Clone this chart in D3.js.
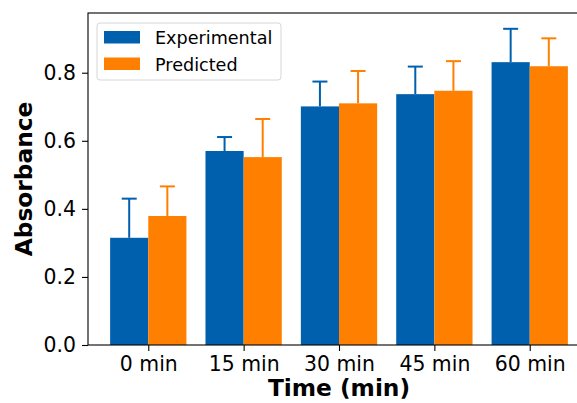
<!DOCTYPE html>
<html>
<head>
<meta charset="utf-8">
<script src="https://cdn.jsdelivr.net/npm/d3@7"></script>
<style>
  body { margin: 0; background: #fff; }
  text { font-family: "DejaVu Sans", sans-serif; }
</style>
</head>
<body>
<svg id="chart" width="577" height="403"></svg>
<script>
// data
const categories = ["0 min", "15 min", "30 min", "45 min", "60 min"];
const series = ["Experimental", "Predicted"];
const experimental = [0.315, 0.570, 0.701, 0.737, 0.831];
const experimentalErr = [0.115, 0.041, 0.073, 0.081, 0.098];
const predicted = [0.379, 0.552, 0.710, 0.747, 0.819];
const predictedErr = [0.087, 0.112, 0.095, 0.087, 0.082];
const yTicks = [0.0, 0.2, 0.4, 0.6, 0.8];

const colors = {"Experimental": "#0060ad", "Predicted": "#ff7f00"};

const margin = {top: 13, left: 88, bottom: 58, right: -13};
const W = 577, H = 403;
const x0 = margin.left, x1 = W - margin.right;
const yTop = margin.top, yBot = H - margin.bottom;

const svg = d3.select("#chart");

const x = d3.scalePoint().domain(categories).range([x0, x1]).padding(0.632);
const step = x.step();
const xs = d3.scaleBand().domain(series).range([-0.4 * step, 0.4 * step]).padding(0);
const yMax = d3.max([...experimental.map((v, i) => v + experimentalErr[i]), ...predicted.map((v, i) => v + predictedErr[i])]) * 1.05;
const y = d3.scaleLinear().domain([0, yMax]).range([yBot, yTop]);

const rows = [];
categories.forEach((c, i) => {
  rows.push({cat: c, s: "Experimental", v: experimental[i], e: experimentalErr[i]});
  rows.push({cat: c, s: "Predicted", v: predicted[i], e: predictedErr[i]});
});

// bars
svg.append("g").selectAll("rect").data(rows).join("rect")
  .attr("x", d => x(d.cat) + xs(d.s))
  .attr("y", d => y(d.v))
  .attr("width", xs.bandwidth())
  .attr("height", d => y(0) - y(d.v))
  .attr("fill", d => colors[d.s]);

// error bars
const eg = svg.append("g").selectAll("g").data(rows).join("g")
  .attr("stroke", d => colors[d.s]).attr("stroke-width", 2);
eg.append("line")
  .attr("x1", d => x(d.cat) + xs(d.s) + xs.bandwidth() / 2)
  .attr("x2", d => x(d.cat) + xs(d.s) + xs.bandwidth() / 2)
  .attr("y1", d => y(d.v))
  .attr("y2", d => y(d.v + d.e));
eg.append("line")
  .attr("x1", d => x(d.cat) + xs(d.s) + xs.bandwidth() / 2 - 7.5)
  .attr("x2", d => x(d.cat) + xs(d.s) + xs.bandwidth() / 2 + 7.5)
  .attr("y1", d => y(d.v + d.e))
  .attr("y2", d => y(d.v + d.e));

// axes
const xAxis = d3.axisBottom(x).tickSize(6).tickPadding(6);
const gx = svg.append("g").attr("transform", `translate(0,${yBot})`).call(xAxis);
gx.select(".domain").remove();
gx.selectAll("text").attr("font-size", 20.4).attr("fill", "#000").attr("font-family", "DejaVu Sans");
gx.selectAll("line").attr("stroke", "#000").attr("stroke-width", 1.1);

const yAxis = d3.axisLeft(y).tickValues(yTicks).tickFormat(d3.format(".1f")).tickSize(6).tickPadding(6);
const gy = svg.append("g").attr("transform", `translate(${x0},0)`).call(yAxis);
gy.select(".domain").remove();
gy.selectAll("text").attr("font-size", 20.4).attr("fill", "#000").attr("font-family", "DejaVu Sans");
gy.selectAll("line").attr("stroke", "#000").attr("stroke-width", 1.1);

// spines
svg.append("rect")
  .attr("x", x0).attr("y", yTop)
  .attr("width", x1 - x0).attr("height", yBot - yTop)
  .attr("fill", "none").attr("stroke", "#000").attr("stroke-width", 1.1);

// axis titles
svg.append("text")
  .attr("x", (x0 + x1) / 2).attr("y", 396)
  .attr("text-anchor", "middle")
  .attr("font-size", 23.3).attr("font-weight", "bold")
  .text("Time (min)");
svg.append("text")
  .attr("transform", `translate(32,${(yTop + yBot) / 2}) rotate(-90)`)
  .attr("text-anchor", "middle")
  .attr("font-size", 23.3).attr("font-weight", "bold")
  .text("Absorbance");

// legend
const lg = svg.append("g");
lg.append("rect")
  .attr("x", 97).attr("y", 23).attr("width", 184).attr("height", 57)
  .attr("rx", 3).attr("fill", "#fff").attr("fill-opacity", 0.8)
  .attr("stroke", "#d6d6d6").attr("stroke-width", 1);
series.forEach((s, i) => {
  lg.append("rect")
    .attr("x", 104).attr("y", 31 + i * 26.5)
    .attr("width", 36).attr("height", 12.5)
    .attr("fill", colors[s]);
  lg.append("text")
    .attr("x", 155).attr("y", 44 + i * 26.5)
    .attr("font-size", 17.6)
    .text(s);
});
</script>
</body>
</html>
